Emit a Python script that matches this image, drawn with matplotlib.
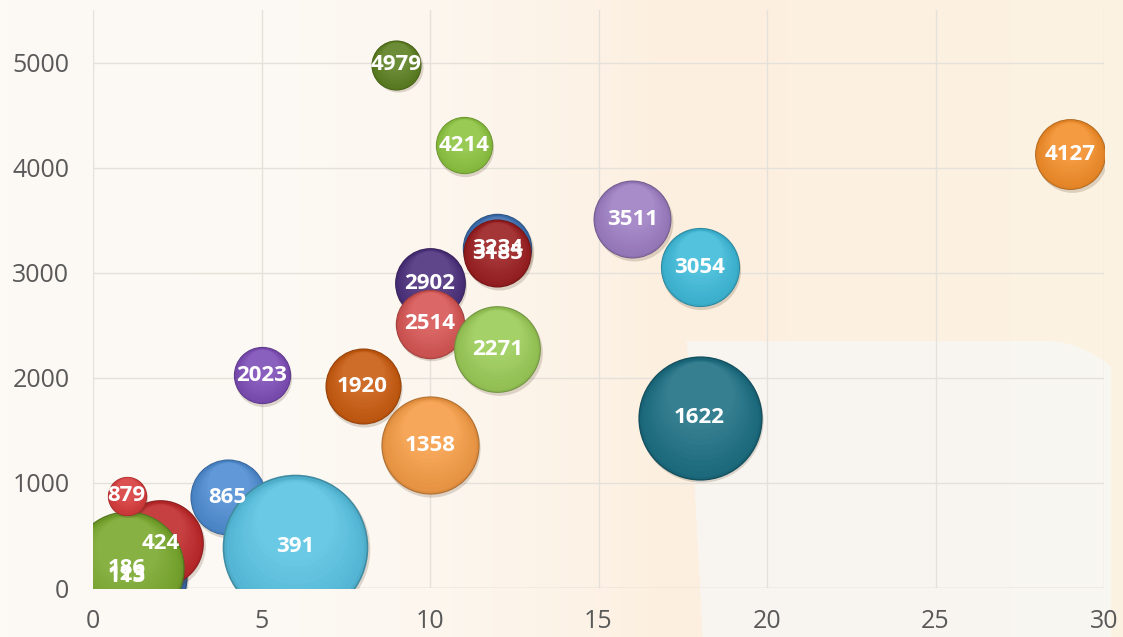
import numpy as np
import matplotlib
matplotlib.use('Agg')
import matplotlib.pyplot as plt
from matplotlib import colors as mcolors
from matplotlib.transforms import ScaledTranslation

plt.rcParams['font.family'] = ['Open Sans', 'DejaVu Sans']

# bubble data: x, y (also the label), bubble size -- listed in drawing order
xs = [1, 1, 2, 1, 1, 4, 6, 8, 10, 5, 10, 10, 12, 12, 12, 18, 18, 16, 29, 11, 9]
ys = [113, 125, 424, 186, 879, 865, 391, 1920, 1358, 2023, 2902, 2514, 2271, 3234, 3185, 1622, 3054, 3511, 4127, 4214, 4979]
sizes = [150, 10, 78, 135, 16, 60, 220, 60, 100, 34, 52, 50, 78, 50, 48, 160, 65, 63, 52, 34, 26]
cols = ['#3c6fb2', '#3c6fb2', '#c0282a', '#78a82c', '#d73a3a', '#4d8bd2', '#58c2e2',
        '#c85a0e', '#f59c45', '#7c4cb6', '#4b2f7b', '#d65553', '#9acb57',
        '#3c6fb2', '#9a1d1f', '#1c6f83', '#3dbad9', '#9d7dc2', '#f38d28', '#8cc43f', '#5b7e1f']

W, H = 1123, 637
fig = plt.figure(figsize=(W / 100, H / 100), dpi=100)

# soft cream background
bg = fig.add_axes([0, 0, 1, 1], zorder=-10)
gx = np.linspace(0, 1, W)
gy = np.linspace(0, 1, H)
GX, GY = np.meshgrid(gx, gy)
c_left = np.array(mcolors.to_rgb('#fdfaf6'))
c_mid = np.array(mcolors.to_rgb('#fcefdf'))
c_right = np.array(mcolors.to_rgb('#fdf3e3'))
t = np.clip(GX / 0.6, 0, 1)[..., None] ** 2.5
img = c_left * (1 - t) + c_mid * t
t2 = np.clip((GX - 0.6) / 0.4, 0, 1)[..., None]
img = img * (1 - t2) + c_right * t2
# pot shape in lower right
pot_top = 0.535 + 0.04 * np.clip((GX - 0.93) / 0.06, 0, 1) ** 2
pot = (GX > 0.612 + (GY - 0.54) * 0.03) & (GX < 0.99) & (GY > pot_top)
img[pot] = img[pot] * 0.2 + np.array(mcolors.to_rgb('#f8f7f5')) * 0.8
bg.imshow(img, extent=[0, 1, 0, 1], origin='upper', aspect='auto', interpolation='bilinear')
bg.set_xlim(0, 1)
bg.set_ylim(0, 1)
bg.axis('off')

ax = fig.add_axes([93 / W, 1 - 588 / H, (1104 - 93) / W, (588 - 10) / H])
ax.patch.set_alpha(0)
ax.set_xlim(0, 30)
ax.set_ylim(0, 5500)
ax.set_xticks(range(0, 31, 5))
ax.set_yticks(range(0, 5001, 1000))
ax.grid(True, color='#e4e0da', linewidth=1)
ax.set_axisbelow(True)
for s in ax.spines.values():
    s.set_visible(False)
ax.axhline(0, color='#dcd7d0', linewidth=1, zorder=1)
ax.tick_params(length=0, labelsize=18, labelcolor='#595959')
ax.tick_params(axis='y', pad=17)
ax.tick_params(axis='x', pad=15)

scale = 50.0
n_layers = 10
for i in range(len(xs)):
    base = np.array(mcolors.to_rgb(cols[i]))
    rim = base * 0.72
    light = base + (1 - base) * 0.11
    s0 = sizes[i] * scale
    r_pt = np.sqrt(s0) / 2
    z = 2 + i
    off = lambda dx, dy: ax.transData + ScaledTranslation(dx / 72, dy / 72, fig.dpi_scale_trans)
    # drop shadow
    ax.scatter([xs[i]], [ys[i]], s=s0, color=(0.3, 0.2, 0.1, 0.18), linewidths=0,
               transform=off(1.0, -1.8), zorder=z)
    ax.scatter([xs[i]], [ys[i]], s=s0, color=rim, linewidths=0, zorder=z + 0.01)
    ax.scatter([xs[i]], [ys[i]], s=s0 * 0.955, color=base * 0.9, linewidths=0, zorder=z + 0.02)
    for k in range(n_layers):
        f = 0.94 - 0.4 * k / (n_layers - 1)
        tt = (k + 1) / n_layers
        c = base * 0.93 * (1 - tt) + light * tt
        dy = (0.94 - f) * r_pt * 0.9
        ax.scatter([xs[i]], [ys[i]], s=s0 * f * f, color=c, linewidths=0,
                   transform=off(0, dy), zorder=z + 0.03 + 0.01 * k)

for i in range(len(xs)):
    ax.text(xs[i], ys[i], str(ys[i]), color='white', fontsize=16, fontweight='bold',
            ha='center', va='center', zorder=100, clip_on=True)

fig.savefig('out.png', dpi=100)
